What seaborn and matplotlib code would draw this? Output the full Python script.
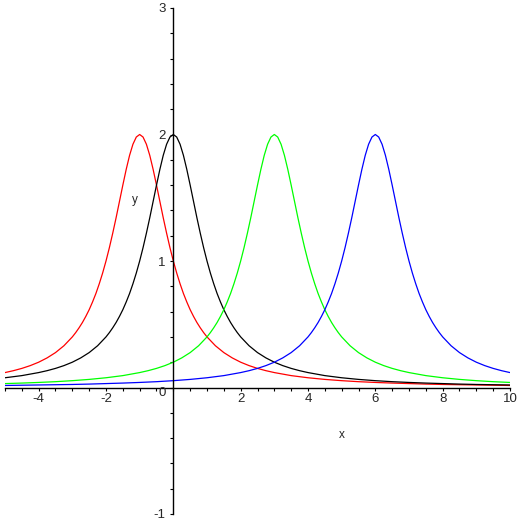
import numpy as np
import pandas as pd
import matplotlib
matplotlib.use('Agg')
import matplotlib.pyplot as plt
import seaborn as sns
from matplotlib.ticker import MultipleLocator, FixedLocator

# one peak profile: height at distance d from the peak
offsets = [0, 0.1, 0.2, 0.3, 0.4, 0.5, 0.6, 0.7, 0.8, 0.9, 1.0,
           1.1, 1.2, 1.3, 1.4, 1.5, 1.6, 1.7, 1.8, 1.9, 2.0,
           2.25, 2.5, 2.75, 3.0, 3.25, 3.5, 3.75, 4.0,
           4.5, 5.0, 5.5, 6.0, 6.5, 7.0, 7.5, 8.0, 8.5, 9.0, 9.5, 10.0, 10.5, 11.0]
heights = [2.000, 1.980, 1.923, 1.835, 1.724, 1.600, 1.471, 1.342, 1.220, 1.105, 1.000,
           0.905, 0.820, 0.743, 0.676, 0.615, 0.562, 0.514, 0.472, 0.434, 0.400,
           0.330, 0.276, 0.234, 0.200, 0.173, 0.151, 0.133, 0.118,
           0.094, 0.077, 0.064, 0.054, 0.046, 0.040, 0.035, 0.031, 0.027, 0.024, 0.022, 0.020, 0.018, 0.016]

curves = ['red', 'black', 'green', 'blue']
centers = [-1, 0, 3, 6]
colors = ['#ff0000', '#000000', '#00ff00', '#0000ff']

x_min, x_max = -5, 10
y_min, y_max = -1, 3

rows = []
for name, c in zip(curves, centers):
    d = np.array(offsets)
    h = np.array(heights)
    xs = np.concatenate([c - d[::-1], c + d[1:]])
    ys = np.concatenate([h[::-1], h[1:]])
    keep = (xs >= x_min) & (xs <= x_max)
    for xv, yv in zip(xs[keep], ys[keep]):
        rows.append({'x': xv, 'y': yv, 'curve': name})
df = pd.DataFrame(rows)

sns.set_style('white')
plt.rcParams['font.family'] = ['Liberation Sans', 'DejaVu Sans']
plt.rcParams['axes.unicode_minus'] = False

fig = plt.figure(figsize=(5.22, 5.22), dpi=100)
ax = fig.add_axes([5 / 522, 8 / 522, 505 / 522, 506 / 522])

sns.lineplot(data=df, x='x', y='y', hue='curve', hue_order=curves,
             palette=dict(zip(curves, colors)), legend=False, linewidth=0.9,
             sort=False, estimator=None, ax=ax)

ax.set_xlim(x_min, x_max)
ax.set_ylim(y_min, y_max)

for side in ['top', 'right']:
    ax.spines[side].set_visible(False)
ax.spines['left'].set_position(('data', 0))
ax.spines['bottom'].set_position(('data', 0))
for side in ['left', 'bottom']:
    ax.spines[side].set_color('black')
    ax.spines[side].set_linewidth(1.0)

ax.xaxis.set_major_locator(FixedLocator([-4, -2, 2, 4, 6, 8, 10]))
ax.xaxis.set_minor_locator(MultipleLocator(0.5))
ax.yaxis.set_major_locator(FixedLocator([-1, 1, 2, 3]))
ax.yaxis.set_minor_locator(MultipleLocator(0.2))
ax.tick_params(axis='both', which='both', direction='out', length=2.5, width=0.8,
               color='black', labelsize=9.5)
ax.tick_params(axis='x', which='both', pad=1.5)
ax.tick_params(axis='y', which='both', pad=3)
ax.xaxis.set_ticks_position('bottom')
ax.yaxis.set_ticks_position('left')

ax.set_xlabel('')
ax.set_ylabel('')
ax.text(-0.33, -0.04, '0', ha='center', va='center', fontsize=9.5)
ax.text(5.0, -0.375, 'x', ha='center', va='center', fontsize=8.5)
ax.text(-1.13, 1.48, 'y', ha='center', va='center', fontsize=8.5)

fig.savefig('out.png', dpi=100)
